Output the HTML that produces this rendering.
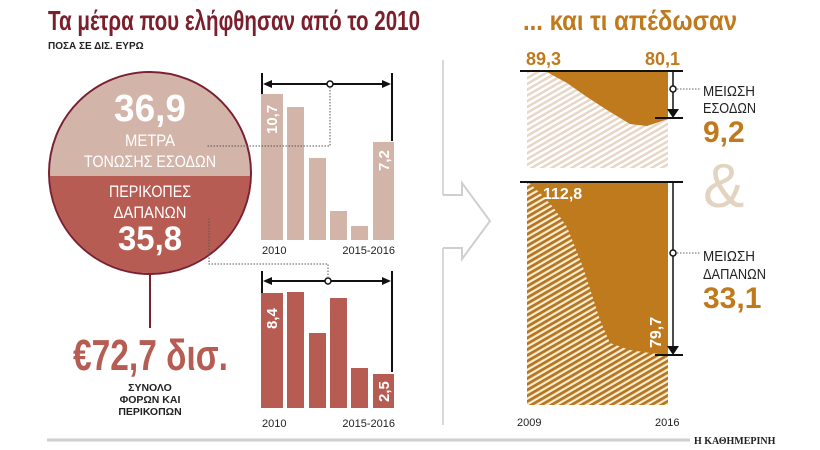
<!DOCTYPE html>
<html><head><meta charset="utf-8"><style>
html,body{margin:0;padding:0;background:#fff;}
svg{display:block;font-family:"Liberation Sans",sans-serif;}
</style></head><body>
<svg width="820" height="450" viewBox="0 0 820 450" xmlns="http://www.w3.org/2000/svg">
<defs>
<pattern id="h1" width="5" height="5" patternUnits="userSpaceOnUse" patternTransform="rotate(60)">
<rect width="5" height="5" fill="#fff"/><rect width="2.5" height="5" fill="#e6d7c6"/></pattern>
<pattern id="h2" width="5" height="5" patternUnits="userSpaceOnUse" patternTransform="rotate(60)">
<rect width="5" height="5" fill="#fbeed0"/><rect width="2.8" height="5" fill="#b57623"/></pattern>
<clipPath id="cc"><circle cx="150" cy="173" r="100"/></clipPath>
</defs>

<!-- titles -->
<text x="48" y="30" font-size="28" font-weight="bold" fill="#7a1f2b" textLength="372" lengthAdjust="spacingAndGlyphs">Τα μέτρα που ελήφθησαν από το 2010</text>
<text x="48" y="49" font-size="10" font-weight="bold" fill="#222">ΠΟΣΑ ΣΕ ΔΙΣ. ΕΥΡΩ</text>
<text x="523" y="30" font-size="28" font-weight="bold" fill="#c07a1e" textLength="214" lengthAdjust="spacingAndGlyphs">... και τι απέδωσαν</text>

<!-- circle -->
<g clip-path="url(#cc)">
<rect x="40" y="60" width="230" height="116" fill="#d3b4a9"/>
<rect x="40" y="176" width="230" height="120" fill="#b65c52"/>
</g>
<circle cx="150" cy="173" r="101" fill="none" stroke="#7a2030" stroke-width="2"/>
<g fill="#fff" text-anchor="middle">
<text x="150" y="121" font-size="38" font-weight="bold" textLength="72" lengthAdjust="spacingAndGlyphs">36,9</text>
<text x="150" y="146" font-size="17" textLength="50" lengthAdjust="spacingAndGlyphs">ΜΕΤΡΑ</text>
<text x="150" y="167" font-size="17" textLength="132" lengthAdjust="spacingAndGlyphs">ΤΟΝΩΣΗΣ ΕΣΟΔΩΝ</text>
<text x="150" y="197" font-size="17" textLength="82" lengthAdjust="spacingAndGlyphs">ΠΕΡΙΚΟΠΕΣ</text>
<text x="150" y="218" font-size="17" textLength="73" lengthAdjust="spacingAndGlyphs">ΔΑΠΑΝΩΝ</text>
<text x="150" y="250" font-size="34" font-weight="bold" textLength="64" lengthAdjust="spacingAndGlyphs">35,8</text>
</g>
<line x1="150" y1="275" x2="150" y2="328" stroke="#7a2030" stroke-width="2"/>
<text x="73" y="370" font-size="44" font-weight="bold" fill="#b65c52" textLength="155" lengthAdjust="spacingAndGlyphs">€72,7 δισ.</text>
<g font-size="10.5" font-weight="bold" fill="#222" text-anchor="middle">
<text x="150" y="391">ΣΥΝΟΛΟ</text><text x="150" y="403">ΦΟΡΩΝ ΚΑΙ</text><text x="150" y="415">ΠΕΡΙΚΟΠΩΝ</text>
</g>

<!-- top bars -->
<g fill="#d3b4a9">
<rect x="261" y="94" width="22" height="146"/><rect x="287" y="107" width="17" height="133"/>
<rect x="309" y="158" width="17" height="82"/><rect x="330" y="211" width="17" height="29"/>
<rect x="351" y="226" width="17" height="14"/><rect x="373" y="142" width="21" height="98"/>
</g>
<text transform="translate(277,134) rotate(-90)" font-size="15" font-weight="bold" fill="#fff">10,7</text>
<text transform="translate(389,171) rotate(-90)" font-size="15" font-weight="bold" fill="#fff">7,2</text>
<g stroke="#111" stroke-width="2" fill="none">
<line x1="262" y1="73" x2="262" y2="94"/><line x1="392" y1="73" x2="392" y2="141"/>
<line x1="266" y1="84" x2="388" y2="84"/>
</g>
<polygon points="263,84 272,80 272,88" fill="#111"/><polygon points="391,84 382,80 382,88" fill="#111"/>
<circle cx="330" cy="84" r="3" fill="#fff" stroke="#111" stroke-width="1.5"/>
<polyline points="330,87 330,146 207,146" fill="none" stroke="#555" stroke-width="1" stroke-dasharray="1.5,1.5"/>
<g font-size="11" fill="#222"><text x="262" y="254">2010</text><text x="395" y="254" text-anchor="end">2015-2016</text></g>

<!-- bottom bars -->
<g fill="#b65c52">
<rect x="261" y="293" width="22" height="115"/><rect x="287" y="292" width="17" height="116"/>
<rect x="309" y="333" width="17" height="75"/><rect x="330" y="298" width="17" height="110"/>
<rect x="351" y="368" width="17" height="40"/><rect x="373" y="374" width="21" height="34"/>
</g>
<text transform="translate(277,329) rotate(-90)" font-size="15" font-weight="bold" fill="#fff">8,4</text>
<text transform="translate(389,402) rotate(-90)" font-size="15" font-weight="bold" fill="#fff">2,5</text>
<g stroke="#111" stroke-width="2" fill="none">
<line x1="262" y1="271" x2="262" y2="293"/><line x1="392" y1="271" x2="392" y2="372"/>
<line x1="266" y1="281" x2="388" y2="281"/>
</g>
<polygon points="263,281 272,277 272,285" fill="#111"/><polygon points="391,281 382,277 382,285" fill="#111"/>
<circle cx="328" cy="281" r="3" fill="#fff" stroke="#111" stroke-width="1.5"/>
<polyline points="328,278 328,264 209,264 209,218" fill="none" stroke="#555" stroke-width="1" stroke-dasharray="1.5,1.5"/>
<g font-size="11" fill="#222"><text x="262" y="427">2010</text><text x="395" y="427" text-anchor="end">2015-2016</text></g>

<!-- divider & chevron -->
<line x1="443" y1="60" x2="443" y2="195" stroke="#d8d8d8" stroke-width="2"/>
<line x1="443" y1="248" x2="443" y2="425" stroke="#d8d8d8" stroke-width="2"/>
<polyline points="443,195 462,195 462,183 490,221 462,259 462,248 443,248" fill="none" stroke="#cfcfcf" stroke-width="2"/>

<!-- right top panel -->
<rect x="527" y="71" width="141" height="97" fill="url(#h1)"/>
<path d="M545,71 L567,83 L587,97 L607,110 L630,124 L647,126 L668,119 L668,71 Z" fill="#c07a1e"/>
<line x1="520" y1="71" x2="683" y2="71" stroke="#111" stroke-width="2"/>
<line x1="655" y1="118" x2="683" y2="118" stroke="#111" stroke-width="2"/>
<line x1="673" y1="72" x2="673" y2="110" stroke="#111" stroke-width="1.5"/>
<polygon points="667,109 679,109 673,118" fill="#111"/>
<circle cx="673" cy="89" r="3" fill="#fff" stroke="#111" stroke-width="1.5"/>
<line x1="677" y1="89" x2="700" y2="89" stroke="#666" stroke-dasharray="1.5,1.5"/>
<g font-size="18" font-weight="bold" fill="#c07a1e"><text x="526" y="65">89,3</text><text x="645" y="65">80,1</text></g>
<g font-size="15" fill="#222"><text x="703" y="96" textLength="52" lengthAdjust="spacingAndGlyphs">ΜΕΙΩΣΗ</text><text x="703" y="113" textLength="53" lengthAdjust="spacingAndGlyphs">ΕΣΟΔΩΝ</text></g>
<text x="703" y="142" font-size="30" font-weight="bold" fill="#c07a1e">9,2</text>
<text x="703" y="207" font-size="62" fill="#e3d4c1">&amp;</text>

<!-- right bottom panel -->
<rect x="527" y="182" width="141" height="223" fill="url(#h2)"/>
<path d="M528,182 L540,193 L553,207 L567,227 L583,267 L600,320 L610,343 L630,350 L650,353 L668,355 L668,182 Z" fill="#c07a1e"/>
<line x1="520" y1="182" x2="683" y2="182" stroke="#111" stroke-width="2"/>
<line x1="655" y1="355" x2="683" y2="355" stroke="#111" stroke-width="2"/>
<line x1="673" y1="183" x2="673" y2="347" stroke="#111" stroke-width="1.5"/>
<polygon points="667,346 679,346 673,355" fill="#111"/>
<circle cx="673" cy="253" r="3" fill="#fff" stroke="#111" stroke-width="1.5"/>
<line x1="677" y1="253" x2="700" y2="253" stroke="#666" stroke-dasharray="1.5,1.5"/>
<text x="543" y="199" font-size="16" font-weight="bold" fill="#fff">112,8</text>
<text transform="translate(661,348) rotate(-90)" font-size="16" font-weight="bold" fill="#fff">79,7</text>
<g font-size="15" fill="#222"><text x="703" y="261" textLength="52" lengthAdjust="spacingAndGlyphs">ΜΕΙΩΣΗ</text><text x="703" y="279" textLength="63" lengthAdjust="spacingAndGlyphs">ΔΑΠΑΝΩΝ</text></g>
<text x="703" y="308" font-size="30" font-weight="bold" fill="#c07a1e">33,1</text>
<g font-size="11" fill="#222"><text x="517" y="426">2009</text><text x="655" y="426">2016</text></g>

<!-- footer -->
<line x1="47" y1="440" x2="690" y2="440" stroke="#cfcfcf" stroke-width="3"/>
<text x="694" y="444" font-size="10" fill="#222" font-family="Liberation Serif" font-weight="bold">Η ΚΑΘΗΜΕΡΙΝΗ</text>
</svg>
</body></html>
